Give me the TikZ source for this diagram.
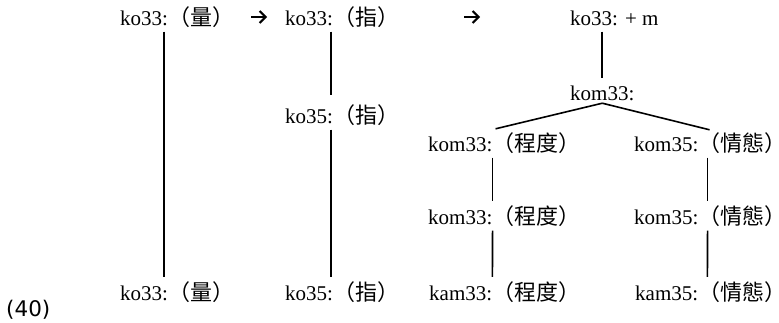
\documentclass[tikz,border=0pt]{standalone}
\usepackage{fontspec}
\setmainfont{Liberation Serif}
\newfontfamily\cjkfont{Noto Sans CJK TC}
\newfontfamily\numfont{DejaVu Sans}
\usetikzlibrary{arrows.meta,positioning}

\begin{document}
\begin{tikzpicture}[x=1pt,y=-1pt,
  lat/.style={inner sep=0pt,text height=14pt,text depth=0pt,anchor=base west,
    font=\fontsize{21pt}{25pt}\selectfont},
  han/.style={inner sep=0pt,font=\cjkfont\fontsize{22pt}{26pt}\selectfont},
  conn/.style={line width=1.6pt,shorten <=6.5pt,shorten >=9pt},
  turn/.style={line width=2pt,-{Straight Barb[length=6pt,width=12pt]}}]
  \useasboundingbox (0,0) rectangle (779,322);

  %% Example number
  \node[anchor=base west,inner sep=0pt,font=\numfont\fontsize{21.5pt}{25pt}\selectfont]
    (num) at (6,316) {(40)};

  %% Column 1
  \node[lat] (a1) at (120,25)  {ko33:};
  \node[han, base right=0pt of a1] (a1h) {（量）};
  \node[lat] (a2) at (120,300) {ko33:};
  \node[han, base right=0pt of a2] (a2h) {（量）};

  %% Column 2
  \node[lat] (p1) at (285,25)  {ko33:};
  \node[han, base right=0pt of p1] (p1h) {（指）};
  \node[lat] (p2) at (285,123) {ko35:};
  \node[han, base right=0pt of p2] (p2h) {（指）};
  \node[lat] (p3) at (285,300) {ko35:};
  \node[han, base right=0pt of p3] (p3h) {（指）};

  %% Tree
  \node[lat] (r0) at (570,25)  {ko33: + m};
  \node[lat] (r1) at (570,100) {kom33:};
  \node[lat] (b1) at (428,151) {kom33:};
  \node[han, base right=0pt of b1] (b1h) {（程度）};
  \node[lat] (b2) at (428,224) {kom33:};
  \node[han, base right=0pt of b2] (b2h) {（程度）};
  \node[lat] (b3) at (429,300) {kam33:};
  \node[han, base right=0pt of b3] (b3h) {（程度）};
  \node[lat] (c1) at (634,151) {kom35:};
  \node[han, base right=0pt of c1] (c1h) {（情態\rlap{）}};
  \node[lat] (c2) at (634,224) {kom35:};
  \node[han, base right=0pt of c2] (c2h) {（情態\rlap{）}};
  \node[lat] (c3) at (635,300) {kam35:};
  \node[han, base right=0pt of c3] (c3h) {（情態\rlap{）}};

  %% Arrows between stages
  \coordinate (t1a) at (251,17);
  \coordinate (t1b) at (267,17);
  \coordinate (t2a) at (464,17);
  \coordinate (t2b) at (480,17);
  \draw[turn] (t1a) -- (t1b);
  \draw[turn] (t2a) -- (t2b);

  %% Column lines
  \path[conn]
    ([xshift=-4pt]a1.south east) edge ([xshift=-4pt]a2.north east)
    ([xshift=-2pt]p1.south east) edge[shorten >=14pt] ([xshift=-2pt]p2.north east)
    ([xshift=-2pt]p2.south east) edge ([xshift=-2pt]p3.north east);

  %% Tree lines
  \path[conn]
    (r1.north |- r0.south) edge[shorten >=8pt] (r1.north)
    ([yshift=-3pt]r1.south) edge[shorten <=0pt,shorten >=0pt] ([xshift=3pt,yshift=8pt]b1.north east)
    ([yshift=-3pt]r1.south) edge[shorten <=0pt,shorten >=0pt] ([xshift=11pt,yshift=7pt]c1.north east)
    (b1.south east) edge (b2.north east)
    (b2.south east) edge (b3.north east)
    ([xshift=9pt]c1.south east) edge ([xshift=9pt]c2.north east)
    ([xshift=9pt]c2.south east) edge ([xshift=9pt]c3.north east);
\end{tikzpicture}
\end{document}
